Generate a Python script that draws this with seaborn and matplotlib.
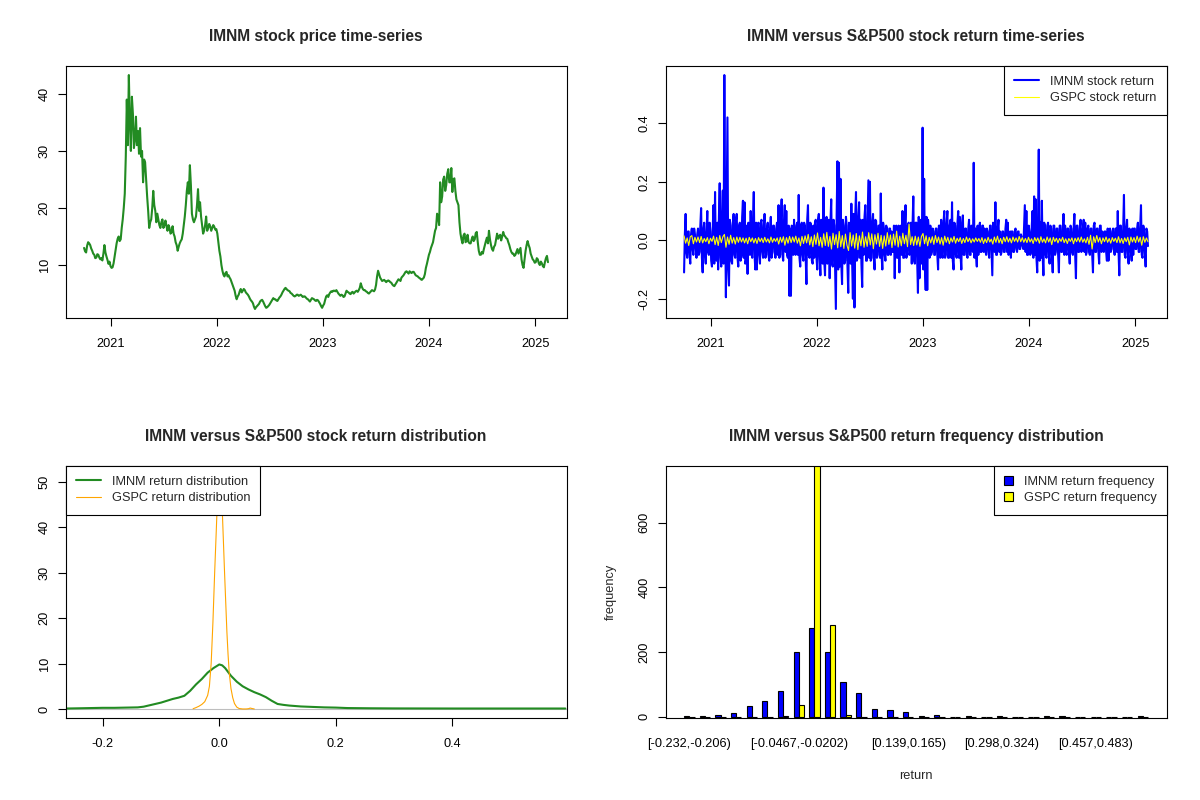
import numpy as np
import pandas as pd
import matplotlib
matplotlib.use("Agg")
import matplotlib.pyplot as plt
import matplotlib.dates as mdates
from matplotlib.patches import Patch
import seaborn as sns

# ---- data ----
start_date, end_date = "2020-10-02", "2025-02-14"

# IMNM close price, two readings per week
imnm_price = [
    13.0, 12.4, 12.2, 13.4, 14.0, 13.8, 13.5, 12.9, 12.5, 12.0, 11.8, 11.2, 11.3, 11.9, 11.8, 11.3, 11.0, 11.2, 10.8, 12.0,
    13.5, 12.2, 11.5, 10.9, 10.2, 10.6, 9.8, 9.5, 9.6, 10.3, 11.5, 12.6, 13.8, 14.6, 15.0, 14.2, 14.5, 16.5, 18.0, 20.0,
    22.5, 29.0, 39.0, 31.0, 43.3, 35.0, 30.0, 39.5, 36.5, 30.5, 32.0, 36.0, 31.0, 33.5, 29.5, 34.0, 29.0, 30.0, 24.5, 28.5,
    28.0, 25.0, 22.0, 19.5, 16.5, 17.5, 18.0, 20.0, 23.0, 20.5, 19.5, 17.5, 19.0, 18.0, 17.0, 16.5, 17.5, 18.0, 16.5, 17.0,
    17.8, 16.8, 16.0, 17.0, 16.5, 15.5, 15.8, 16.8, 15.5, 15.0, 14.0, 13.5, 12.5, 13.2, 13.8, 14.2, 14.5, 15.5, 17.0, 18.5,
    20.5, 23.0, 24.5, 22.5, 27.5, 24.0, 19.0, 18.0, 17.5, 18.0, 18.5, 20.5, 23.3, 19.5, 21.0, 18.5, 17.0, 15.5, 16.0, 17.0,
    18.5, 16.0, 16.5, 17.2, 16.8, 16.0, 16.5, 17.0, 16.7, 16.2, 16.3, 15.5, 14.0, 12.5, 11.5, 10.0, 9.0, 8.3, 8.0, 8.6,
    8.8, 8.0, 8.2, 7.8, 7.5, 7.0, 6.5, 6.0, 5.5, 4.6, 4.0, 4.5, 4.8, 5.4, 5.8, 5.2, 5.5, 5.8, 5.6, 5.2,
    5.0, 4.8, 4.5, 4.1, 3.8, 3.6, 3.3, 2.7, 2.3, 2.6, 2.8, 3.0, 3.2, 3.6, 3.8, 3.9, 3.6, 3.2, 2.8, 2.5,
    2.6, 2.8, 3.0, 3.3, 3.6, 3.9, 4.2, 4.0, 4.0, 3.8, 3.7, 4.0, 4.3, 4.5, 4.8, 5.2, 5.5, 5.8, 6.0, 5.8,
    5.6, 5.5, 5.4, 5.1, 5.0, 4.8, 4.6, 4.5, 4.6, 4.8, 4.8, 4.6, 4.7, 4.8, 4.6, 4.4, 4.5, 4.5, 4.3, 4.1,
    4.0, 3.8, 3.6, 3.9, 4.2, 4.1, 4.0, 3.8, 3.7, 3.9, 3.8, 3.5, 3.2, 2.8, 2.5, 2.9, 3.2, 3.9, 4.5, 4.7,
    4.4, 4.9, 5.2, 5.4, 5.3, 5.5, 5.5, 5.4, 5.6, 5.3, 5.0, 4.8, 4.6, 4.8, 4.7, 4.4, 4.5, 5.0, 5.5, 5.3,
    5.2, 5.0, 4.9, 5.2, 5.3, 5.0, 5.2, 5.4, 5.5, 5.3, 5.6, 6.0, 6.8, 6.2, 5.8, 5.6, 5.6, 5.4, 5.3, 5.1,
    5.0, 5.2, 5.4, 5.6, 5.5, 5.4, 5.7, 6.5, 8.0, 9.0, 8.4, 7.8, 7.5, 7.2, 7.3, 7.4, 7.2, 7.0, 7.2, 7.3,
    7.2, 7.0, 6.9, 6.6, 6.4, 6.3, 6.6, 6.9, 7.2, 7.5, 7.4, 7.2, 7.8, 8.0, 8.2, 8.5, 8.8, 8.9, 8.7, 8.5,
    8.9, 8.7, 8.6, 8.8, 8.8, 8.5, 8.2, 8.1, 8.0, 7.8, 7.7, 7.5, 7.4, 7.6, 7.8, 8.4, 9.5, 10.2, 11.0, 11.8,
    12.3, 13.0, 13.5, 14.0, 15.0, 16.0, 16.5, 19.0, 18.5, 17.0, 24.5, 21.0, 22.0, 25.0, 25.5, 23.0, 24.0, 26.0, 26.8, 24.5,
    24.5, 27.0, 22.8, 25.0, 25.2, 23.0, 21.5, 21.0, 20.5, 17.5, 15.5, 14.5, 13.8, 15.2, 15.5, 14.0, 14.2, 15.3, 14.0, 13.8,
    13.8, 14.5, 15.0, 14.2, 14.5, 15.6, 15.8, 14.0, 12.5, 11.8, 11.8, 12.3, 12.0, 12.8, 13.5, 14.2, 14.8, 13.8, 16.0, 14.5,
    13.5, 12.8, 12.5, 13.2, 13.5, 14.5, 15.5, 14.6, 15.0, 15.3, 14.3, 15.0, 15.8, 15.2, 15.0, 14.7, 14.6, 14.0, 13.5, 12.8,
    12.3, 12.0, 12.0, 11.6, 11.8, 12.3, 12.8, 12.0, 12.5, 13.0, 11.0, 10.0, 9.5, 11.0, 12.5, 13.5, 14.2, 13.5, 13.0, 12.0,
    11.5, 11.0, 10.8, 10.4, 10.5, 11.2, 11.0, 10.3, 10.0, 10.6, 10.3, 9.8, 9.6, 10.5, 11.2, 11.6, 10.5,
]

# IMNM return
imnm_ret = [
    -0.11, 0.02, 0.09, -0.04, -0.06, 0.03, 0.03, -0.05, -0.08, 0.02, 0.04, -0.03, -0.05, 0.04, 0.02, -0.03, -0.06, 0.02, 0.04, -0.05,
    -0.04, 0.05, 0.11, -0.06, -0.11, 0.04, 0.06, -0.05, -0.08, 0.03, 0.10, -0.04, -0.05, 0.06, 0.03, -0.07, -0.09, 0.04, 0.12, -0.08,
    0.165, -0.05, -0.07, 0.06, -0.10, 0.08, 0.195, -0.06, -0.09, 0.09, 0.17, -0.08, 0.565, 0.10, -0.195, 0.12, 0.42, -0.10, -0.155, 0.07,
    0.05, -0.07, -0.08, 0.06, 0.09, -0.05, -0.06, 0.07, 0.09, -0.06, -0.09, 0.05, 0.06, -0.07, -0.05, 0.08, 0.135, -0.06, 0.13, -0.08,
    -0.07, 0.05, -0.115, 0.06, 0.04, -0.05, 0.10, -0.04, -0.06, 0.07, 0.165, -0.05, -0.10, 0.06, -0.10, 0.05, 0.06, -0.05, -0.08, 0.06,
    0.07, -0.04, -0.06, 0.05, 0.09, -0.06, -0.05, 0.04, 0.06, -0.05, -0.07, 0.04, 0.08, -0.06, -0.04, 0.05, 0.05, -0.04, -0.06, 0.04,
    0.06, -0.05, 0.12, -0.06, -0.05, 0.07, 0.14, -0.05, -0.07, 0.06, 0.12, -0.04, 0.10, -0.05, -0.06, 0.05, -0.19, 0.04, -0.19, 0.05,
    0.04, -0.05, 0.07, -0.04, -0.05, 0.05, 0.06, -0.05, 0.155, -0.06, -0.09, 0.05, 0.06, -0.05, -0.07, 0.06, 0.05, -0.06, -0.15, 0.07,
    0.12, -0.05, -0.06, 0.06, 0.05, -0.07, -0.08, 0.05, -0.06, 0.06, 0.07, -0.06, -0.10, 0.07, 0.09, -0.06, -0.12, 0.07, 0.04, -0.08,
    0.18, -0.07, -0.12, 0.06, 0.08, -0.08, -0.07, 0.07, -0.13, 0.06, 0.14, -0.08, -0.09, 0.07, 0.05, -0.09, -0.235, 0.08, 0.27, -0.10,
    0.265, -0.09, 0.21, -0.08, -0.15, 0.07, 0.05, -0.08, -0.07, 0.08, 0.05, -0.09, -0.18, 0.06, 0.04, -0.08, 0.125, -0.07, -0.20, 0.09,
    -0.23, 0.08, 0.165, -0.07, -0.06, 0.08, 0.13, -0.06, 0.07, -0.08, -0.16, 0.07, -0.05, 0.08, 0.12, -0.07, -0.07, 0.06, 0.205, -0.06,
    0.20, -0.07, -0.06, 0.06, 0.09, -0.06, -0.10, 0.07, 0.065, -0.06, -0.05, 0.05, 0.05, -0.06, 0.16, -0.05, -0.10, 0.06, 0.04, -0.05,
    -0.07, 0.05, 0.04, -0.05, -0.05, 0.04, 0.04, -0.05, 0.03, -0.04, -0.04, 0.05, -0.13, 0.04, 0.05, -0.06, -0.06, 0.05, -0.11, 0.04,
    0.05, -0.05, 0.10, -0.06, -0.06, 0.05, 0.12, -0.06, -0.05, 0.05, 0.06, -0.05, -0.04, 0.06, -0.08, 0.05, 0.15, -0.07, -0.08, 0.06,
    0.06, -0.07, -0.18, 0.08, -0.13, 0.06, 0.07, -0.08, 0.385, -0.10, 0.21, -0.09, -0.17, 0.08, -0.17, 0.07, 0.04, -0.06, 0.05, -0.05,
    -0.04, 0.04, 0.03, -0.05, -0.05, 0.04, 0.04, -0.05, -0.10, 0.05, 0.05, -0.06, 0.07, -0.05, -0.06, 0.06, 0.10, -0.06, -0.05, 0.06,
    0.10, -0.06, -0.06, 0.05, 0.07, -0.06, 0.13, -0.07, -0.10, 0.06, 0.05, -0.05, -0.06, 0.06, 0.10, -0.06, 0.08, -0.05, -0.10, 0.06,
    0.085, -0.05, -0.05, 0.04, 0.04, -0.05, -0.06, 0.04, 0.07, -0.05, -0.05, 0.05, 0.04, -0.04, 0.265, -0.06, 0.04, -0.05, -0.09, 0.05,
    -0.05, 0.04, 0.06, -0.04, -0.04, 0.05, 0.05, -0.04, 0.04, -0.03, -0.05, 0.04, 0.03, -0.04, -0.06, 0.05, 0.05, -0.04, -0.12, 0.06,
    0.05, -0.04, 0.13, -0.05, -0.05, 0.04, 0.07, -0.04, 0.03, -0.05, -0.04, 0.03, 0.03, -0.04, -0.04, 0.04, 0.07, -0.04, 0.06, -0.05,
    -0.03, 0.03, -0.06, 0.03, 0.03, -0.04, -0.04, 0.03, 0.04, -0.03, -0.04, 0.03, 0.03, -0.03, -0.03, 0.02, 0.01, -0.02, -0.03, 0.04,
    0.12, -0.04, 0.10, -0.05, -0.05, 0.05, 0.03, -0.05, -0.04, 0.05, 0.10, -0.06, 0.15, -0.05, 0.14, -0.06, -0.11, 0.06, 0.31, -0.07,
    0.06, -0.06, 0.135, -0.05, -0.12, 0.06, 0.05, -0.05, -0.06, 0.05, 0.06, -0.05, -0.08, 0.05, 0.04, -0.05, -0.11, 0.05, 0.05, -0.05,
    -0.04, 0.04, 0.04, -0.05, -0.11, 0.05, 0.05, -0.04, -0.04, 0.04, 0.09, -0.05, 0.05, -0.04, -0.05, 0.04, 0.04, -0.04, -0.08, 0.05,
    0.04, -0.04, -0.05, 0.04, 0.09, -0.05, -0.13, 0.05, 0.05, -0.04, -0.04, 0.04, 0.07, -0.04, -0.03, 0.04, 0.07, -0.04, 0.06, -0.05,
    -0.04, 0.04, 0.05, -0.04, -0.05, 0.04, 0.04, -0.05, -0.11, 0.05, 0.06, -0.04, -0.04, 0.04, 0.04, -0.04, -0.08, 0.05, 0.05, -0.04,
    0.03, -0.03, -0.04, 0.03, 0.03, -0.04, -0.07, 0.04, -0.07, 0.03, 0.04, -0.04, -0.03, 0.03, 0.04, -0.03, -0.05, 0.04, 0.04, -0.04,
    0.10, -0.04, -0.12, 0.05, 0.05, -0.04, -0.04, 0.04, 0.155, -0.05, -0.06, 0.04, 0.07, -0.04, -0.08, 0.04, 0.03, -0.04, -0.07, 0.04,
    -0.05, 0.04, 0.04, -0.03, -0.03, 0.04, 0.06, -0.04, -0.04, 0.05, 0.12, -0.05, -0.06, 0.05, 0.03, -0.04, -0.09, 0.04, 0.03, -0.02,
]

# S&P500 (GSPC) return
gspc_ret = [
    0.015, -0.010, 0.008, -0.018, 0.012, 0.016, -0.012, 0.010, -0.006, 0.011,
    -0.008, 0.013, -0.009, 0.006, -0.005, 0.009, -0.012, 0.007, -0.004, 0.014,
    -0.015, 0.010, -0.018, 0.016, -0.008, 0.012, 0.020, -0.024, 0.011, -0.014,
    0.017, -0.010, 0.009, -0.013, 0.011, -0.007, 0.010, -0.006, 0.008, -0.009,
    0.007, -0.012, 0.010, -0.005, 0.008, -0.009, 0.006, -0.011, 0.009, -0.005,
    0.007, -0.008, 0.010, -0.006, 0.005, -0.009, 0.011, -0.007, 0.006, -0.004,
    0.008, -0.013, 0.010, -0.007, 0.012, -0.017, 0.009, -0.010, 0.013, -0.008,
    0.011, -0.006, 0.014, -0.010, 0.008, -0.019, 0.013, -0.011, 0.015, -0.009,
    0.020, -0.016, 0.012, -0.022, 0.018, -0.014, 0.025, -0.019, 0.010, -0.024,
    0.022, -0.018, 0.027, -0.021, 0.013, -0.030, 0.024, -0.015, 0.019, -0.026,
    0.030, -0.022, 0.016, -0.028, 0.021, -0.017, -0.035, 0.026, -0.020, 0.018,
    -0.027, 0.023, -0.032, 0.015, -0.019, 0.028, -0.024, 0.012, -0.021, 0.026,
    -0.016, 0.022, -0.029, 0.019, -0.013, 0.024, -0.021, 0.017, -0.028, 0.015,
    -0.020, 0.026, -0.014, 0.018, -0.025, 0.021, -0.017, 0.031, -0.023, 0.014,
    -0.019, 0.024, -0.012, 0.017, -0.022, 0.055, -0.015, 0.012, -0.018, 0.014,
    -0.016, 0.011, -0.021, 0.013, 0.023, -0.012, 0.015, -0.019, 0.010, -0.009,
    0.012, -0.014, 0.016, -0.008, 0.011, -0.013, 0.009, -0.017, 0.014, -0.007,
    0.010, -0.012, 0.008, -0.006, 0.013, -0.010, 0.007, -0.005, 0.009, -0.011,
    0.006, -0.008, 0.011, -0.005, 0.007, -0.009, 0.005, -0.006, 0.008, -0.004,
    0.006, -0.007, 0.009, -0.011, 0.005, -0.008, 0.010, -0.006, 0.004, -0.013,
    0.011, -0.007, 0.014, -0.009, 0.006, -0.012, 0.010, -0.005, 0.012, -0.006,
    0.007, -0.009, 0.011, -0.004, 0.008, -0.006, 0.013, -0.005, 0.009, -0.007,
    0.006, -0.008, 0.010, -0.006, 0.005, -0.011, 0.009, -0.004, 0.008, -0.010,
    0.012, -0.007, 0.005, -0.009, 0.011, -0.006, 0.008, -0.015, 0.010, -0.005,
    0.007, -0.009, 0.006, -0.004, 0.010, -0.008, 0.005, -0.011, 0.006, -0.004,
    0.008, -0.012, 0.007, -0.005, 0.009, -0.006, 0.011, -0.007, 0.005, -0.009,
    0.010, -0.014, 0.017, -0.030, 0.012, -0.008, 0.016, -0.006, 0.009, -0.012,
    0.008, -0.005, 0.011, -0.007, 0.006, -0.010, 0.009, -0.004, 0.007, -0.008,
    0.012, -0.009, 0.006, -0.011, 0.008, -0.005, 0.010, -0.016, 0.011, -0.006,
    0.009, -0.008, 0.014, -0.006, 0.010, -0.017, 0.012, -0.007, 0.008, -0.005,
]

# kernel density curves
imnm_dens_x = [-0.262, -0.24, -0.22, -0.20, -0.18, -0.16, -0.14, -0.13, -0.12, -0.11,
               -0.10, -0.09, -0.08, -0.07, -0.06, -0.05, -0.04, -0.03, -0.02, -0.01,
               0.0, 0.005, 0.01, 0.02, 0.03, 0.04, 0.05, 0.06, 0.07, 0.08,
               0.09, 0.10, 0.11, 0.12, 0.14, 0.16, 0.18, 0.20, 0.22, 0.26,
               0.30, 0.40, 0.50, 0.594]
imnm_dens_y = [0.1, 0.15, 0.2, 0.25, 0.25, 0.3, 0.35, 0.5, 0.8, 1.1,
               1.4, 1.8, 2.2, 2.5, 2.9, 4.0, 5.4, 6.6, 8.0, 9.0,
               9.8, 9.6, 9.0, 7.3, 6.0, 5.0, 4.3, 3.7, 3.2, 2.6,
               1.8, 1.1, 0.9, 0.75, 0.55, 0.45, 0.35, 0.3, 0.2, 0.15,
               0.12, 0.1, 0.1, 0.1]
gspc_dens_x = [-0.045, -0.04, -0.035, -0.03, -0.025, -0.02, -0.017, -0.014, -0.011, -0.008,
               -0.005, -0.003, -0.001, 0.001, 0.003, 0.005, 0.007, 0.009, 0.011, 0.013,
               0.015, 0.017, 0.020, 0.023, 0.026, 0.030, 0.034, 0.040, 0.046, 0.050,
               0.053, 0.056, 0.060]
gspc_dens_y = [0.05, 0.3, 0.6, 1.0, 1.6, 3.0, 5.0, 10.0, 19.0, 30.0,
               40.0, 47.0, 51.0, 51.5, 49.0, 44.0, 37.0, 30.0, 23.5, 17.0,
               12.0, 8.0, 4.5, 2.5, 1.2, 0.4, 0.1, 0.0, 0.0, 0.05,
               0.2, 0.1, 0.0]

# return frequency table (30 bins)
bin_edges = ['-0.232', '-0.206', '-0.179', '-0.152', '-0.126', '-0.0997', '-0.0732',
             '-0.0467', '-0.0202', '0.00633', '0.0328', '0.0593', '0.0858', '0.112',
             '0.139', '0.165', '0.192', '0.218', '0.245', '0.271', '0.298', '0.324',
             '0.351', '0.377', '0.404', '0.43', '0.457', '0.483', '0.51', '0.536', '0.563']
imnm_freq = [3, 3, 6, 10, 32, 50, 78, 200, 275, 200, 108, 72, 25, 20, 13,
             3, 6, 0, 3, 0, 3, 0, 0, 3, 3, 0, 0, 0, 0, 1]
gspc_freq = [0, 0, 0, 0, 0, 0, 1, 35, 790, 285, 4, 0, 0, 0, 0,
             0, 0, 0, 0, 0, 0, 0, 0, 0, 0, 0, 0, 0, 0, 0]
shown_bins = [0, 7, 14, 20, 26]

# ---- style ----
sns.set_theme(style="ticks")
plt.rcParams['font.family'] = ['Liberation Sans', 'DejaVu Sans']
plt.rcParams['axes.xmargin'] = 0.04
plt.rcParams['axes.ymargin'] = 0.04

BASE = 9.2
TITLE = 11.2


def r_look(ax):
    for s in ax.spines.values():
        s.set_visible(True)
        s.set_linewidth(0.8)
        s.set_color('black')
    ax.tick_params(direction='out', length=5.8, width=0.8, labelsize=BASE,
                   colors='black')
    ax.tick_params(axis='x', pad=8.5)
    ax.tick_params(axis='y', pad=5, labelrotation=90)
    plt.setp(ax.get_yticklabels(), va='center')
    ax.set_xlabel('')
    ax.set_ylabel('')
    ax.grid(False)


def r_legend(ax, handles, labels, loc, hl=1.95, hh=0.7):
    leg = ax.legend(handles, labels, loc=loc, borderaxespad=0, fancybox=False,
                    frameon=True, edgecolor='black', framealpha=1, fontsize=BASE,
                    handlelength=hl, handleheight=hh, handletextpad=0.85,
                    borderpad=0.8, labelspacing=0.35)
    leg.get_frame().set_linewidth(0.8)
    return leg


fig = plt.figure(figsize=(12, 8), dpi=100)
w, h = 0.4175, 0.3158
ax1 = fig.add_axes([0.0546, 0.6021, w, h])
ax2 = fig.add_axes([0.5546, 0.6021, w, h])
ax3 = fig.add_axes([0.0546, 0.1021, w, h])
ax4 = fig.add_axes([0.5546, 0.1021, w, h])

# panel 1: price
price_df = pd.DataFrame({'date': pd.date_range(start_date, end_date, periods=len(imnm_price)),
                         'price': imnm_price})
sns.lineplot(data=price_df, x='date', y='price', ax=ax1, color='#228B22', linewidth=1.5)
ax1.set_yticks([10, 20, 30, 40])
ax1.xaxis.set_major_locator(mdates.YearLocator())
ax1.xaxis.set_major_formatter(mdates.DateFormatter('%Y'))
r_look(ax1)
ax1.set_title('IMNM stock price time-series', fontsize=TITLE, fontweight='bold', pad=17.5)

# panel 2: returns
ret_df = pd.DataFrame({'date': pd.date_range(start_date, end_date, periods=len(imnm_ret)),
                       'ret': imnm_ret})
gspc_df = pd.DataFrame({'date': pd.date_range(start_date, end_date, periods=len(gspc_ret)),
                        'ret': gspc_ret})
sns.lineplot(data=ret_df, x='date', y='ret', ax=ax2, color='#0000FF', linewidth=1.5,
             label='IMNM stock return')
sns.lineplot(data=gspc_df, x='date', y='ret', ax=ax2, color='#FFFF00', linewidth=0.8,
             label='GSPC stock return')
ax2.set_yticks([-0.2, 0.0, 0.2, 0.4])
ax2.set_yticklabels(['-0.2', '0.0', '0.2', '0.4'])
ax2.xaxis.set_major_locator(mdates.YearLocator())
ax2.xaxis.set_major_formatter(mdates.DateFormatter('%Y'))
r_look(ax2)
hs, ls = ax2.get_legend_handles_labels()
r_legend(ax2, hs, ls, 'upper right')
ax2.set_title('IMNM versus S&P500 stock return time-series', fontsize=TITLE,
              fontweight='bold', pad=17.5)

# panel 3: densities
ax3.axhline(0, color='#BEBEBE', linewidth=0.8)
sns.lineplot(x=imnm_dens_x, y=imnm_dens_y, ax=ax3, color='#228B22', linewidth=1.5,
             label='IMNM return distribution')
sns.lineplot(x=gspc_dens_x, y=gspc_dens_y, ax=ax3, color='#FFA500', linewidth=0.8,
             label='GSPC return distribution')
ax3.set_xlim(-0.264, 0.596)
top = max(gspc_dens_y)
ax3.set_ylim(-0.04 * top, 1.04 * top)
ax3.set_xticks([-0.2, 0.0, 0.2, 0.4])
ax3.set_xticklabels(['-0.2', '0.0', '0.2', '0.4'])
ax3.set_yticks([0, 10, 20, 30, 40, 50])
r_look(ax3)
hs, ls = ax3.get_legend_handles_labels()
r_legend(ax3, hs, ls, 'upper left')
ax3.set_title('IMNM versus S&P500 stock return distribution', fontsize=TITLE,
              fontweight='bold', pad=17.5)

# panel 4: frequency bars
bin_labels = [f'[{bin_edges[i]},{bin_edges[i + 1]})' for i in range(len(imnm_freq))]
hist_df = pd.DataFrame({
    'bin': bin_labels * 2,
    'series': ['IMNM'] * len(imnm_freq) + ['GSPC'] * len(gspc_freq),
    'count': imnm_freq + gspc_freq,
})
sns.barplot(data=hist_df, x='bin', y='count', hue='series', order=bin_labels,
            hue_order=['IMNM', 'GSPC'], palette=['#0000FF', '#FFFF00'], saturation=1,
            width=2 / 3, edgecolor='black', linewidth=0.8, errorbar=None,
            legend=False, ax=ax4)
ax4.set_xlim(-1.52, len(bin_labels) - 1 + 1.52)
ax4.set_ylim(-5, 776)
ax4.set_yticks([0, 200, 400, 600])
ax4.set_xticks(shown_bins)
ax4.set_xticklabels([bin_labels[i] for i in shown_bins])
r_look(ax4)
ax4.tick_params(axis='x', length=0, pad=14)
ax4.set_xlabel('return', fontsize=BASE)
ax4.set_ylabel('frequency', fontsize=BASE)
ax4.xaxis.set_label_coords(0.5, -0.205)
ax4.yaxis.set_label_coords(-0.097, 0.5)
r_legend(ax4, [Patch(facecolor='#0000FF', edgecolor='black', linewidth=0.8),
               Patch(facecolor='#FFFF00', edgecolor='black', linewidth=0.8)],
         ['IMNM return frequency', 'GSPC return frequency'], 'upper right',
         hl=0.7, hh=0.7)
ax4.set_title('IMNM versus S&P500 return frequency distribution', fontsize=TITLE,
              fontweight='bold', pad=17.5)

fig.savefig('out.png', dpi=100)
print("saved out.png")
